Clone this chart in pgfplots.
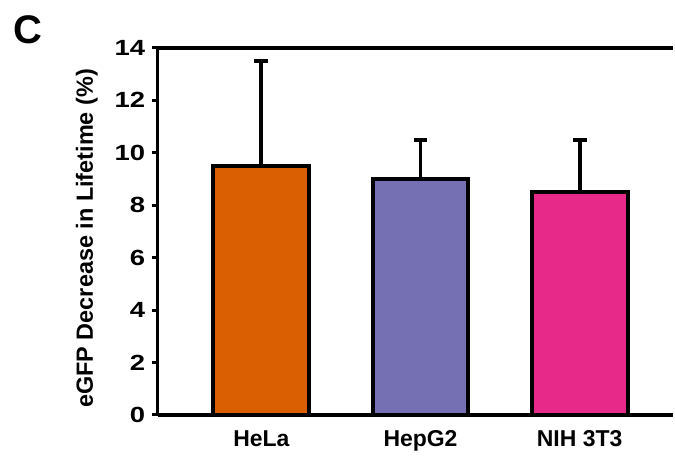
\documentclass[border=0pt]{standalone}
\usepackage{fontspec}
\setmainfont{Liberation Sans}
\usepackage{graphicx}
\usepackage{pgfplots}
\pgfplotsset{compat=1.18}
\definecolor{cOrange}{HTML}{D95F02}
\definecolor{cPurple}{HTML}{7570B3}
\definecolor{cPink}{HTML}{E7298A}
\begin{document}
\begin{tikzpicture}
\begin{axis}[
  at={(0pt,0pt)}, anchor=south west,
  scale only axis, width=517pt, height=368pt,
  xmin=-0.652, xmax=2.589, ymin=0, ymax=14,
  axis lines=left,
  axis line style={-, line width=3.3pt, black},
  ytick={0,2,4,6,8,10,12,14},
  yticklabels={0,2,4,6,8,10,12,14},
  yticklabel={\scalebox{1.25}[1]{\pgfmathprintnumber[assume math mode=true]{\tick}}},
  xtick={0,1,2},
  xticklabels={HeLa, HepG2, NIH 3T3},
  tick align=outside,
  major tick length=6pt,
  y tick style={line width=3pt, black},
  x tick style={draw=none},
  xticklabel style={font=\fontsize{23}{26}\selectfont\bfseries, yshift=-6pt},
  yticklabel style={font=\fontsize{22}{26}\selectfont\bfseries, xshift=-3pt},
  ylabel={eGFP Decrease in Lifetime (\%)},
  every axis y label/.style={at={(axis description cs:-0.1373,0.481)}, rotate=90, anchor=center, font=\fontsize{23.5}{28}\selectfont\bfseries},
  ybar, bar width=96pt, bar shift=0pt,
  clip=false,
]
\addplot[fill=cOrange, draw=black, line width=4pt,
  error bars/.cd, y dir=plus, y explicit,
  error bar style={line width=4pt, black},
  error mark options={black, line width=4pt, mark size=7pt, rotate=90}]
  coordinates {(0,9.5) +- (0,4.0)};
\addplot[fill=cPurple, draw=black, line width=4pt,
  error bars/.cd, y dir=plus, y explicit,
  error bar style={line width=4pt, black},
  error mark options={black, line width=4pt, mark size=7pt, rotate=90}]
  coordinates {(1,9.0) +- (0,1.5)};
\addplot[fill=cPink, draw=black, line width=4pt,
  error bars/.cd, y dir=plus, y explicit,
  error bar style={line width=4pt, black},
  error mark options={black, line width=4pt, mark size=7pt, rotate=90}]
  coordinates {(2,8.5) +- (0,2.0)};
\draw[line width=3.3pt, black] (axis cs:-0.652,14) -- (axis cs:2.589,14);
\end{axis}
\node[font=\fontsize{40}{42}\selectfont\bfseries] at (-130pt,386.5pt) {C};
\path[use as bounding box] (-158pt,-42pt) rectangle (517pt,416pt);
\end{tikzpicture}
\end{document}
